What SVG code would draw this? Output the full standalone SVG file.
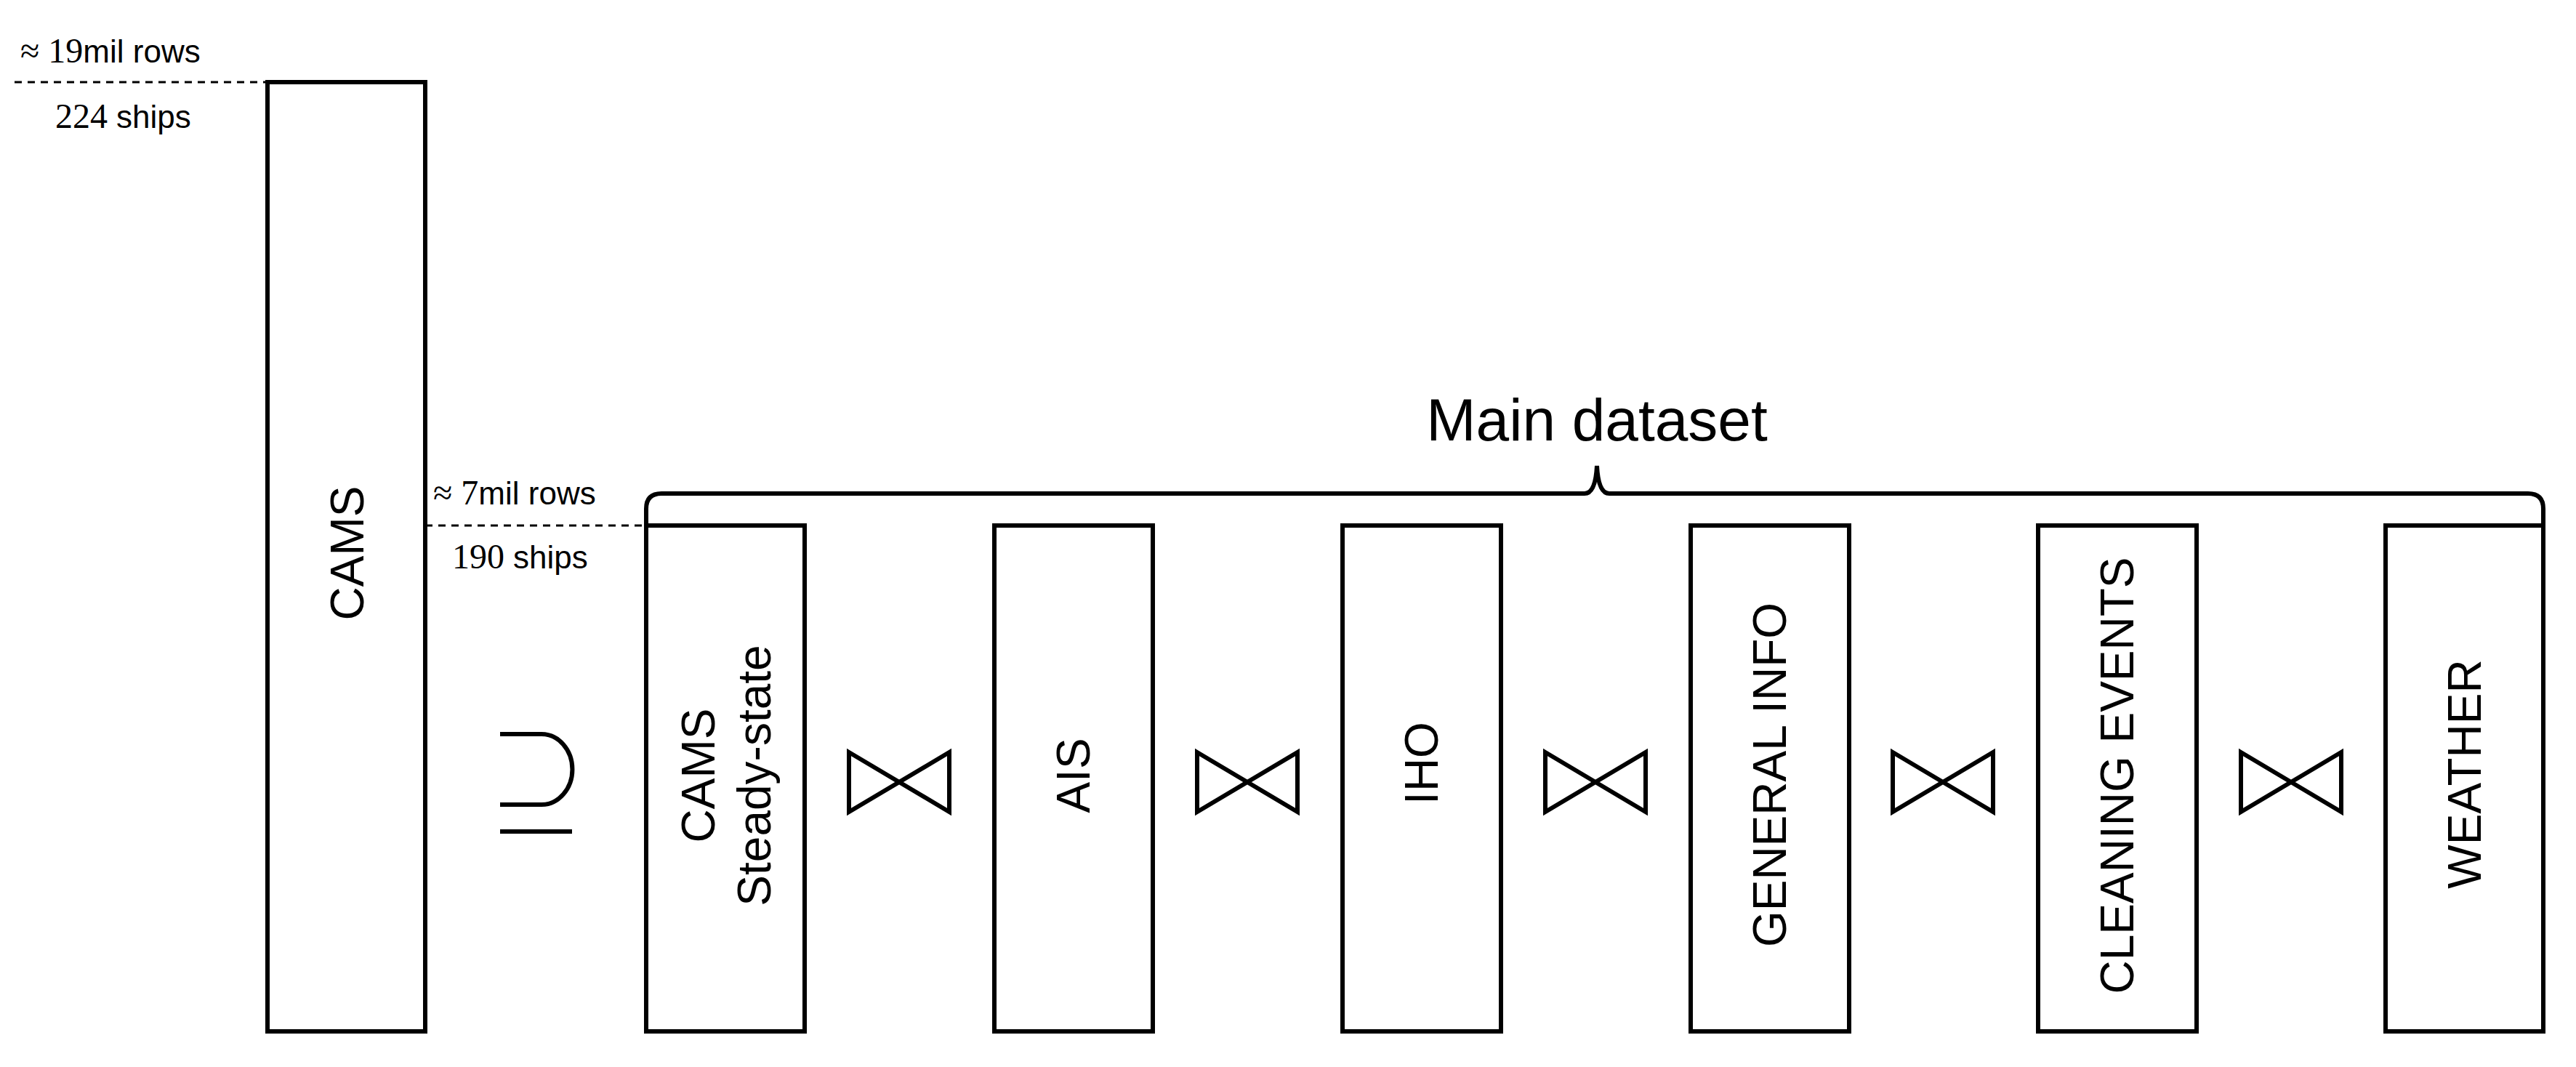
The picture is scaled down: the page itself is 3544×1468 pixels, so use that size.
<svg xmlns="http://www.w3.org/2000/svg" width="3544" height="1468" viewBox="0 0 3544 1468">
<style>
.box{fill:#fff;stroke:#000;stroke-width:6}
.lbl{font-family:"Liberation Sans",Arial,sans-serif;font-size:64px;text-anchor:middle;dominant-baseline:central}
.sf{font-family:"Liberation Serif","Times New Roman",serif}
.ss{font-family:"Liberation Sans",Arial,sans-serif}
.note{font-size:48px}
.dash{stroke:#000;stroke-width:3;stroke-dasharray:10 8;fill:none}
.bt{fill:none;stroke:#000;stroke-width:6;stroke-linejoin:miter}
</style>
<rect width="3544" height="1468" fill="#fff"/>
<g id="annotations">
<line class="dash" x1="20" y1="113" x2="368" y2="113"/>
<text class="note" x="28" y="86"><tspan class="sf">≈ 19</tspan><tspan class="ss" font-size="44">mil rows</tspan></text>
<text class="note" x="76" y="176"><tspan class="sf">224 </tspan><tspan class="ss" font-size="44">ships</tspan></text>
<line class="dash" x1="585" y1="723" x2="889" y2="723"/>
<text class="note" x="596" y="694"><tspan class="sf">≈ 7</tspan><tspan class="ss" font-size="44">mil rows</tspan></text>
<text class="note" x="622" y="782"><tspan class="sf">190 </tspan><tspan class="ss" font-size="44">ships</tspan></text>
<text class="ss" x="2197" y="606" font-size="82" text-anchor="middle">Main dataset</text>
</g>
<g id="node-cams">
<rect class="box" x="368" y="113" width="217" height="1306"/>
<text class="lbl" transform="translate(478,761) rotate(-90)">CAMS</text>
</g>
<g id="node-cams-steady">
<rect class="box" x="889" y="723" width="218" height="696"/>
<text class="lbl" transform="translate(961,1067) rotate(-90)">CAMS</text>
<text class="lbl" transform="translate(1038,1067) rotate(-90)">Steady-state</text>
</g>
<g id="node-ais">
<rect class="box" x="1368" y="723" width="218" height="696"/>
<text class="lbl" transform="translate(1477,1067) rotate(-90)">AIS</text>
</g>
<g id="node-iho">
<rect class="box" x="1847" y="723" width="218" height="696"/>
<text class="lbl" transform="translate(1956,1050) rotate(-90)">IHO</text>
</g>
<g id="node-general">
<rect class="box" x="2326" y="723" width="218" height="696"/>
<text class="lbl" transform="translate(2435,1066) rotate(-90)">GENERAL INFO</text>
</g>
<g id="node-cleaning">
<rect class="box" x="2804" y="723" width="218" height="696"/>
<text class="lbl" transform="translate(2913,1067) rotate(-90)">CLEANING EVENTS</text>
</g>
<g id="node-weather">
<rect class="box" x="3282" y="723" width="217" height="696"/>
<text class="lbl" transform="translate(3391,1065) rotate(-90)">WEATHER</text>
</g>
<g id="connectors">
<path class="bt" d="M688 1010 H745 A42 48 0 0 1 745 1107 H688 M688 1144 H787"/>
<path class="bt" d="M1168 1035 L1306 1117 V1035 L1168 1117 Z"/>
<path class="bt" d="M1647 1035 L1785 1117 V1035 L1647 1117 Z"/>
<path class="bt" d="M2126 1035 L2264 1117 V1035 L2126 1117 Z"/>
<path class="bt" d="M2604 1035 L2742 1117 V1035 L2604 1117 Z"/>
<path class="bt" d="M3083 1035 L3221 1117 V1035 L3083 1117 Z"/>
<path fill="none" stroke="#000" stroke-width="6" d="M889 723 V700 Q889 679 910 679 H2180 Q2195 679 2197 641 Q2199 679 2214 679 H3478 Q3499 679 3499 700 V723"/>
</g>
</svg>
